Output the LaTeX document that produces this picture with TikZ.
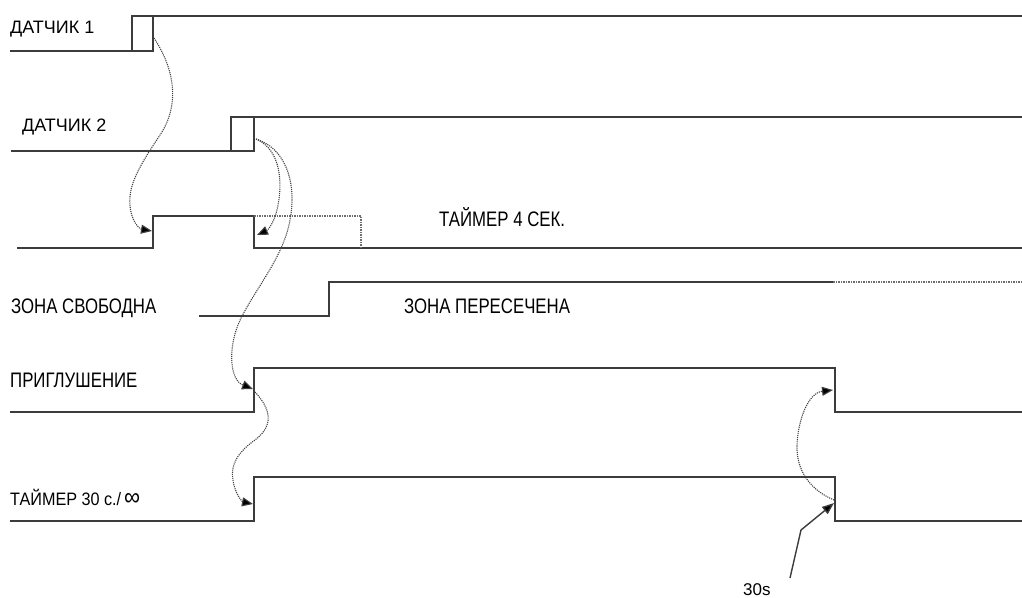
\documentclass[tikz,border=0pt]{standalone}
\usepackage{fontspec}
\setmainfont{Liberation Sans}
\newfontfamily\tmwidefont{Liberation Sans}
\newfontfamily\tmmidfont{Liberation Sans}[FakeStretch=0.9]
\newfontfamily\tmnarrowfont{Liberation Sans}[FakeStretch=0.8]
\usepackage{xcolor}
\definecolor{tmline}{HTML}{3C3C3C}
\definecolor{tmcue}{HTML}{404040}
\usetikzlibrary{arrows.meta,positioning,calc}
\tikzset{
  tmsig/.style={draw=tmline,line width=1.8pt},
  tmghost/.style={draw=tmline!75,line width=1.5pt,densely dotted},
  tmcue/.style={draw=tmcue,line width=1.1pt,densely dotted,-{Triangle[length=11pt,width=9pt,fill=black]}},
  tmpush/.style={draw=tmline,line width=1.4pt,-{Triangle[length=12pt,width=9pt,fill=black]}},
  tmname/.style={font=\tmwidefont\fontsize{18}{20}\selectfont,inner sep=0pt,anchor=base west},
  tmtag/.style={font=\tmnarrowfont\fontsize{21}{24}\selectfont,inner sep=0pt,anchor=base west},
  tmtimer/.style={font=\tmmidfont\fontsize{18}{20}\selectfont,inner sep=0pt,anchor=base west},
}

\begin{document}
\begin{tikzpicture}[x=1pt,y=-1pt]
\useasboundingbox (0,0) rectangle (1022,597);
% labels
\node[tmname] (n1) at (10,33) {ДАТЧИК 1};
\node[tmname] (n2) at (22,131) {ДАТЧИК 2};
\node[tmtag] (t4) at (439,226) {ТАЙМЕР 4 СЕК.};
\node[tmtag] (zf) at (11,313) {ЗОНА СВОБОДНА};
\node[tmtag] (zx) at (404,313) {ЗОНА ПЕРЕСЕЧЕНА};
\node[tmtag] (mu) at (10,387) {ПРИГЛУШЕНИЕ};
\node[tmtimer] (t30) at (10,505) {ТАЙМЕР 30 с./\,{\fontsize{25}{25}\selectfont ∞}};
\node[tmname,font=\tmwidefont\fontsize{17}{20}\selectfont] (s30) at (743,595) {30s};
% signals
\draw[tmsig] (10,51) -| (153,16);
\draw[tmsig] (132,51) |- (1022,16);
\draw[tmsig] (11,151) -| (254,117);
\draw[tmsig] (231,151) |- (1022,117);
\draw[tmsig] (17,248) -| (153,216) -| (254,248) -- (1022,248);
\draw[tmghost] (254,216) -| (361,248);
\draw[tmsig] (199,316) -| (329,282) -- (833,282);
\draw[tmghost] (833,282) -- (1022,282);
\draw[tmsig] (10,412) -| (254,368) -| (835,412) -- (1022,412);
\draw[tmsig] (10,521) -| (254,477) -| (835,521) -- (1022,521);
% event points
\coordinate (d1off) at (154,38);
\coordinate (d2off) at (256,139);
\coordinate (t4on) at (152,231);
\coordinate (t4re) at (257,235);
\coordinate (muon) at (253,389);
\coordinate (mufrom) at (255,392);
\coordinate (t30on) at (253,504);
\coordinate (t30off) at (834,500);
\coordinate (muoff) at (833,390);
\coordinate (s30up) at (790,578);
\coordinate (t30end) at (834,503);
% cues
\draw[tmcue] (d1off) .. controls (175,70) and (180,105) .. (160,135)
  .. controls (140,165) and (128,185) .. (130,205)
  .. controls (131,222) and (140,229) .. (t4on);
\draw[tmcue] (d2off) .. controls (282,150) and (282,185) .. (278,205)
  .. controls (275,222) and (268,230) .. (t4re);
\draw[tmcue] (d2off) .. controls (290,150) and (296,190) .. (290,220)
  .. controls (283,260) and (250,295) .. (238,325)
  .. controls (228,350) and (230,380) .. (muon);
\draw[tmcue] (mufrom) .. controls (270,408) and (275,425) .. (255,440)
  .. controls (238,452) and (230,465) .. (233,480)
  .. controls (235,495) and (243,502) .. (t30on);
\draw[tmcue] (t30off) .. controls (810,490) and (796,470) .. (797,445)
  .. controls (798,420) and (808,393) .. (muoff);
\draw[tmpush] (s30up) -- (801,530) -- (t30end);
\end{tikzpicture}
\end{document}
